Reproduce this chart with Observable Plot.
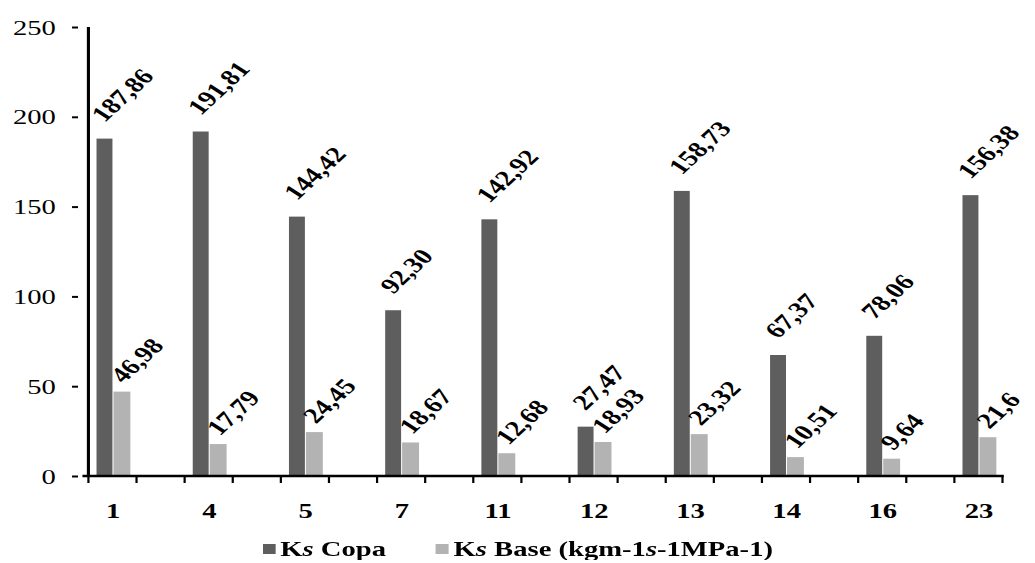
<!DOCTYPE html>
<html>
<head>
<meta charset="utf-8">
<script src="https://cdn.jsdelivr.net/npm/d3@7"></script>
<script src="https://cdn.jsdelivr.net/npm/@observablehq/plot@0.6"></script>
<style>
  html, body { margin: 0; padding: 0; background: #fff; overflow: hidden; }
  #fig { width: 796px; transform-origin: 0 0; font-family: "Liberation Serif", "Times New Roman", serif; color: #000; }
  #legend { display: flex; justify-content: center; align-items: center; gap: 38px;
            font-size: 22px; font-weight: bold; line-height: 22px; margin-top: 8px; }
  #legend .item { display: flex; align-items: center; }
  #legend .sw { width: 10px; height: 10px; margin-right: 4px; }
</style>
</head>
<body>
<div id="fig"></div>
<script>
// Plants sampled, hydraulic conductivity of crown and base (decimal comma as printed)
const categories = ["1", "4", "5", "7", "11", "12", "13", "14", "16", "23"];
const copaLabels = ["187,86", "191,81", "144,42", "92,30", "142,92", "27,47", "158,73", "67,37", "78,06", "156,38"];
const baseLabels = ["46,98", "17,79", "24,45", "18,67", "12,68", "18,93", "23,32", "10,51", "9,64", "21,6"];
const seriesNames = ["Ks Copa", "Ks Base (kgm-1s-1MPa-1)"];
const yTicks = [0, 50, 100, 150, 200, 250];
const colors = ["#5e5e5e", "#b3b3b3"];

const num = s => +s.replace(",", ".");

// each plant gets a slot followed by an empty slot
const slots = categories.flatMap((c, i) => i < categories.length - 1 ? [c, "·" + i] : [c]);

const rows = categories.map((c, i) => ({
  cat: c,
  copa: num(copaLabels[i]), copaText: copaLabels[i],
  base: num(baseLabels[i]), baseText: baseLabels[i]
}));

const W = 796, H = 530;
const mL = 60, mR = 18, mT = 27, mB = 54;
const bw = (W - mL - mR) / slots.length;
const font = "'Liberation Serif', 'Times New Roman', serif";

// axis lines and tick marks on the slot boundaries
function axisLines(index, scales) {
  const {x, y} = scales;
  const g = d3.create("svg:g").attr("stroke", "#000").attr("fill", "none");
  const step = x(slots[1]) - x(slots[0]);
  const left = x(slots[0]);
  const right = x(slots[slots.length - 1]) + step;
  const y0 = y(0);
  g.append("line").attr("x1", left).attr("x2", left)
    .attr("y1", y(yTicks[yTicks.length - 1])).attr("y2", y0 + 1).attr("stroke-width", 2.4);
  g.append("line").attr("x1", left - 4.6).attr("x2", right + 1)
    .attr("y1", y0).attr("y2", y0).attr("stroke-width", 2.6);
  const edges = slots.map(s => x(s)).concat([right]);
  g.selectAll("line.t").data(edges).join("line").attr("class", "t")
    .attr("x1", d => d).attr("x2", d => d)
    .attr("y1", y0).attr("y2", y0 + 7).attr("stroke-width", 1.7);
  return g.node();
}

const chart = Plot.plot({
  width: W, height: H,
  marginLeft: mL, marginRight: mR, marginTop: mT, marginBottom: mB,
  style: {fontFamily: font, background: "#fff", color: "#000", overflow: "visible"},
  x: {domain: slots, padding: 0, axis: null},
  y: {domain: [0, 250], label: null, axis: null},
  marks: [
    Plot.axisY({ticks: yTicks, tickSize: 4.6, tickPadding: 13, fontSize: 22, fontFamily: font, strokeWidth: 2, label: null}),
    Plot.axisX({ticks: categories, tickSize: 0, tickPadding: 26, fontSize: 22, fontFamily: font, fontWeight: "bold", label: null}),
    Plot.barY(rows, {x: "cat", y: "copa", fill: colors[0], insetLeft: 0.165 * bw, insetRight: 0.49 * bw}),
    Plot.barY(rows, {x: "cat", y: "base", fill: colors[1], insetLeft: 0.51 * bw, insetRight: 0.125 * bw}),
    axisLines,
    Plot.text(rows, {x: "cat", y: "copa", text: "copaText", rotate: -50, textAnchor: "start", lineAnchor: "bottom",
      dx: -0.1625 * bw - 0.5, dy: -16, fontSize: 22, fontFamily: font, fontWeight: "bold", fill: "#000"}),
    Plot.text(rows, {x: "cat", y: "base", text: "baseText", rotate: -50, textAnchor: "start", lineAnchor: "bottom",
      dx: 0.1925 * bw + 0.8, dy: -8, fontSize: 22, fontFamily: font, fontWeight: "bold", fill: "#000"})
  ]
});

const fig = document.getElementById("fig");
fig.append(chart);

const legend = document.createElement("div");
legend.id = "legend";
seriesNames.forEach((name, i) => {
  const item = document.createElement("span");
  item.className = "item";
  const sw = document.createElement("span");
  sw.className = "sw";
  sw.style.background = colors[i];
  const label = document.createElement("span");
  label.innerHTML = name.replace(/(K|1)s/g, "$1<i>s</i>");
  item.append(sw, label);
  legend.append(item);
});
fig.append(legend);

// the whole figure is drawn horizontally widened to fill the page
fig.style.transform = `scaleX(${1035 / W})`;
</script>
</body>
</html>
